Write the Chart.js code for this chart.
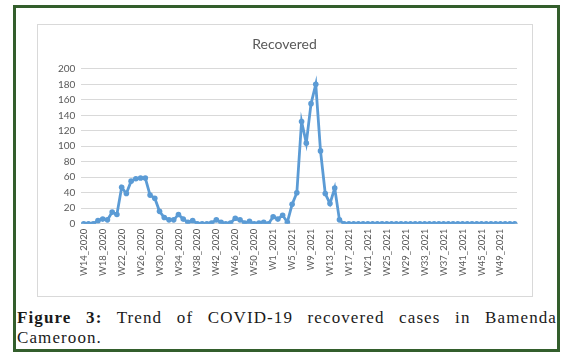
<!DOCTYPE html>
<html lang="en">
<head>
    <meta charset="UTF-8">
    <title>Recovered</title>
    <script src="https://cdn.jsdelivr.net/npm/chart.js"></script>
    <style>
        body {
            margin: 0;
            padding: 0;
            background-color: #fff;
            width: 571px;
            height: 358px;
            overflow: hidden;
        }
        .frame {
            position: absolute;
            left: 13px;
            top: 5px;
            width: 541px;
            height: 341px;
            border: 3px solid #335e2c;
        }
        .chart-box {
            position: absolute;
            left: 37px;
            top: 24px;
            width: 494px;
            height: 271px;
            border: 1px solid #d9d9d9;
        }
        .caption {
            position: absolute;
            left: 17px;
            top: 308px;
            width: 540px;
            font-family: "Liberation Serif", "DejaVu Serif", serif;
            font-size: 17px;
            letter-spacing: 1.1px;
            word-spacing: 2px;
            line-height: 20px;
            color: #1a1a1a;
            text-align: justify;
            text-align-last: left;
        }
    </style>
</head>
<body>
    <div class="frame"></div>
    <div class="chart-box">
        <canvas id="chart" width="494" height="271"></canvas>
    </div>
    <div class="caption"><b>Figure 3:</b> Trend of COVID-19 recovered cases in Bamenda Cameroon.</div>

    <script>
        // weeks W14_2020..W53_2020, then W1_2021..W52_2021
        const weeks2020 = [];
        for (let w = 14; w <= 53; w++) weeks2020.push('W' + w + '_2020');
        const weeks2021 = [];
        for (let w = 1; w <= 52; w++) weeks2021.push('W' + w + '_2021');
        const weekLabels = weeks2020.concat(weeks2021);

        // recovered cases per week
        const recovered2020 = [0, 0, 0, 4, 6, 5, 15, 12, 47, 39, 55, 58, 59, 59, 37, 33, 16, 8, 5, 5,
                               12, 6, 2, 4, 0, 0, 0, 1, 5, 2, 0, 1, 7, 5, 1, 3, 0, 1, 2, 0];
        const recovered2021 = [9, 6, 11, 2, 25, 40, 132, 104, 155, 180, 94, 39, 26, 46, 5, 0, 0, 0, 0, 0,
                               0, 0, 0, 0, 0, 0, 0, 0, 0, 0, 0, 0, 0, 0, 0, 0, 0, 0, 0, 0,
                               0, 0, 0, 0, 0, 0, 0, 0, 0, 0, 0, 0];
        const recoveredValues = recovered2020.concat(recovered2021);

        const yTicks = [0, 20, 40, 60, 80, 100, 120, 140, 160, 180, 200];

        const ctx = document.getElementById('chart').getContext('2d');
        new Chart(ctx, {
            type: 'line',
            data: {
                labels: weekLabels,
                datasets: [{
                    label: 'Recovered',
                    data: recoveredValues,
                    borderColor: '#5b9bd5',
                    backgroundColor: '#5b9bd5',
                    borderWidth: 2.8,
                    pointRadius: 2.8,
                    pointBorderWidth: 0,
                    tension: 0
                }]
            },
            options: {
                responsive: false,
                animation: false,
                layout: {
                    padding: { left: 14, right: 15, top: 0, bottom: 15 }
                },
                plugins: {
                    legend: { display: false },
                    tooltip: { enabled: false },
                    title: {
                        display: true,
                        text: 'Recovered',
                        color: '#595959',
                        font: { family: 'Lato, "Open Sans", sans-serif', size: 14, weight: 'normal' },
                        padding: { top: 11, bottom: 16 }
                    }
                },
                scales: {
                    x: {
                        offset: true,
                        grid: { display: false, drawTicks: false },
                        border: { color: '#d9d9d9' },
                        ticks: {
                            autoSkip: false,
                            maxRotation: 90,
                            minRotation: 90,
                            padding: 5,
                            color: '#595959',
                            font: { family: 'Lato, "Open Sans", sans-serif', size: 9.5 },
                            callback: function (value, index) {
                                return index % 4 === 0 ? weekLabels[index] : '';
                            }
                        }
                    },
                    y: {
                        min: yTicks[0],
                        max: yTicks[yTicks.length - 1],
                        afterBuildTicks: function (axis) {
                            axis.ticks = yTicks.map(v => ({ value: v }));
                        },
                        grid: { color: '#d9d9d9', drawTicks: false },
                        border: { display: false },
                        ticks: {
                            autoSkip: false,
                            padding: 6,
                            color: '#595959',
                            font: { family: 'Lato, "Open Sans", sans-serif', size: 10 }
                        }
                    }
                }
            }
        });
    </script>
</body>
</html>
